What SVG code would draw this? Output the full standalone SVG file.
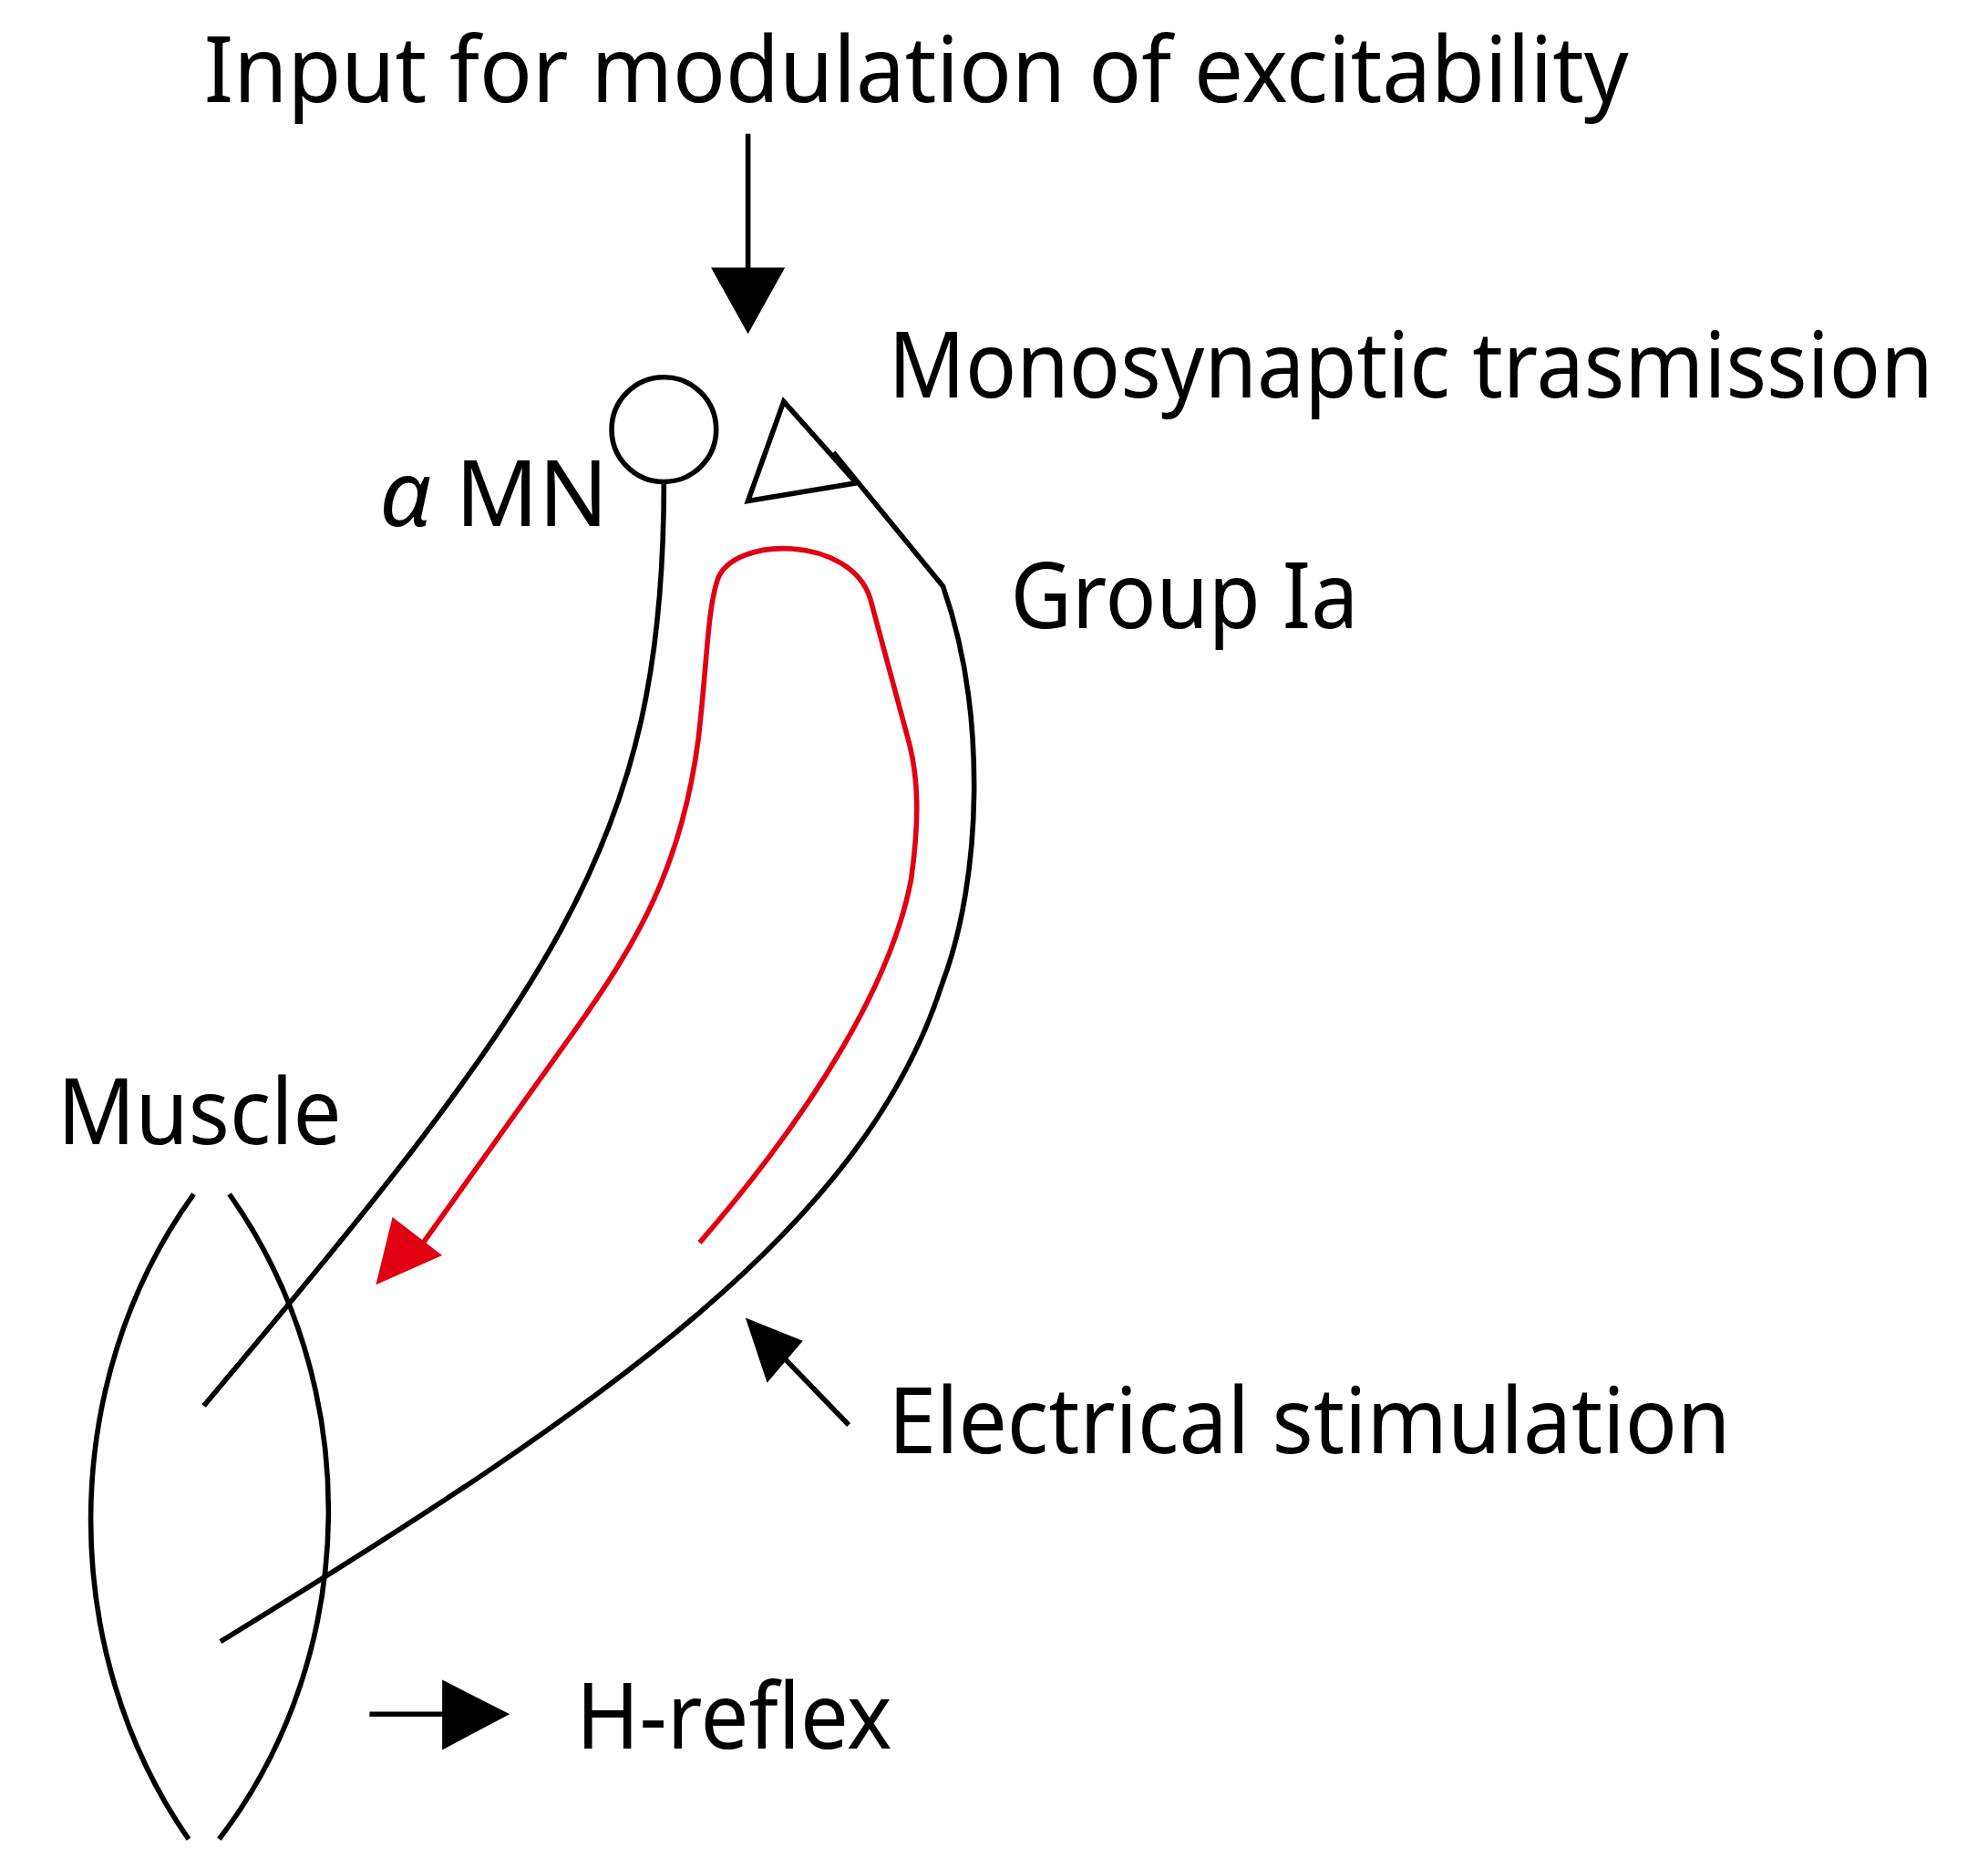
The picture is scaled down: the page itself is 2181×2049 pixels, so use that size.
<svg xmlns="http://www.w3.org/2000/svg" width="2181" height="2049" viewBox="0 0 2181 2049">
<style>
.t{font-family:"Noto Sans","Liberation Sans",sans-serif;font-size:72px;fill:#000}
.k{fill:none;stroke:#000;stroke-width:4}
.r{fill:none;stroke:#e00012;stroke-width:4}
</style>
<rect width="2181" height="2049" fill="#fff"/>
<g transform="scale(1.398)">
<g id="title"><text class="t" x="160" y="80" textLength="1118" lengthAdjust="spacingAndGlyphs">Input for modulation of excitability</text></g>
<g id="mn"><circle class="k" cx="521" cy="337" r="41"/><text class="t" x="298" y="413"><tspan font-style="italic">α</tspan> MN</text></g>
<g id="synapse"><polygon class="k" points="615,315 587,393 672,379"/><text class="t" x="697" y="312" textLength="820" lengthAdjust="spacingAndGlyphs">Monosynaptic trasmission</text></g>
<g id="groupIa"><text class="t" x="793" y="493" textLength="273" lengthAdjust="spacingAndGlyphs">Group Ia</text></g>
<g id="muscle"><path class="k" d="M152,937 C45,1085 45,1295 148,1443"/><path class="k" d="M180,937 C285,1085 285,1295 172,1443"/><text class="t" x="45" y="898" textLength="223" lengthAdjust="spacingAndGlyphs">Muscle</text></g>
<g id="stim"><text class="t" x="697" y="1140" textLength="661" lengthAdjust="spacingAndGlyphs">Electrical stimulation</text></g>
<g id="hreflex"><text class="t" x="452" y="1372" textLength="248" lengthAdjust="spacingAndGlyphs">H-reflex</text></g>
<g id="connectors">
<line class="k" x1="587" y1="105" x2="587" y2="215"/><polygon points="558,210 616,210 587,262"/>
<path class="k" d="M521,378 C521,520 500,620 440,730 C380,840 280,960 160,1103"/>
<path class="k" d="M654,355 L740,460 C775,560 770,690 740,770 C680,960 480,1100 173,1288"/>
<path class="r" d="M549,975 C640,870 700,770 715,690 C722,640 720,610 714,585 L683,470 C668,420 575,420 563,455 C555,480 555,520 548,580 C535,680 500,740 450,810 L325,985"/>
<polygon fill="#e00012" points="295,1008 308,955 347,985"/>
<line class="k" x1="666" y1="1118" x2="610" y2="1060"/><polygon points="585,1034 630,1052 602,1085"/>
<line class="k" x1="290" y1="1345" x2="355" y2="1345"/><polygon points="347,1318 347,1373 400,1345"/>
</g>
</g>
</svg>
